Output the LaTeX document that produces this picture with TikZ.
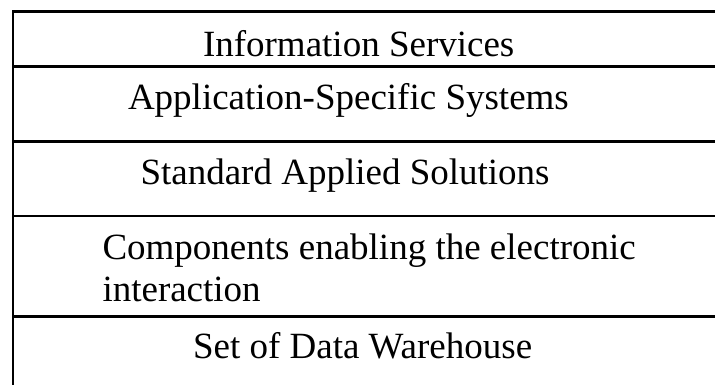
\documentclass[tikz,border=0pt]{standalone}
\usepackage{fontspec}
\setmainfont{Liberation Serif}
\begin{document}
\begin{tikzpicture}[x=1pt,y=-1pt,
  lbl/.style={anchor=base west,inner sep=0pt,outer sep=0pt,font=\fontsize{37}{42}\selectfont},
  rule/.style={line width=2.6pt,black},
  vrule/.style={line width=2.2pt,black}]
\useasboundingbox (0,0) rectangle (715,385);
% frame
\draw[vrule] (13,10.5) -- (13,385);
\draw[rule] (12,11.5) -- (715,11.5);
\draw[rule] (12,66.5) -- (715,66.5);
\draw[rule] (12,141.5) -- (715,141.5);
\draw[rule] (12,216) -- (715,216);
\draw[rule] (12,316.5) -- (715,316.5);
% texts
\node[lbl] (info) at (203,57) {Information Services};
\node[lbl] (app)  at (128,110) {Application-Specific Systems};
\node[lbl] (std)  at (140.5,184.5) {Standard Applied Solutions};
\node[lbl] (compa) at (102.5,259.5) {Components enabling the electronic};
\node[lbl] (compb) at (102.5,301.5) {interaction};
\node[lbl] (set)  at (193,358.5) {Set of Data Warehouse};
\end{tikzpicture}
\end{document}
